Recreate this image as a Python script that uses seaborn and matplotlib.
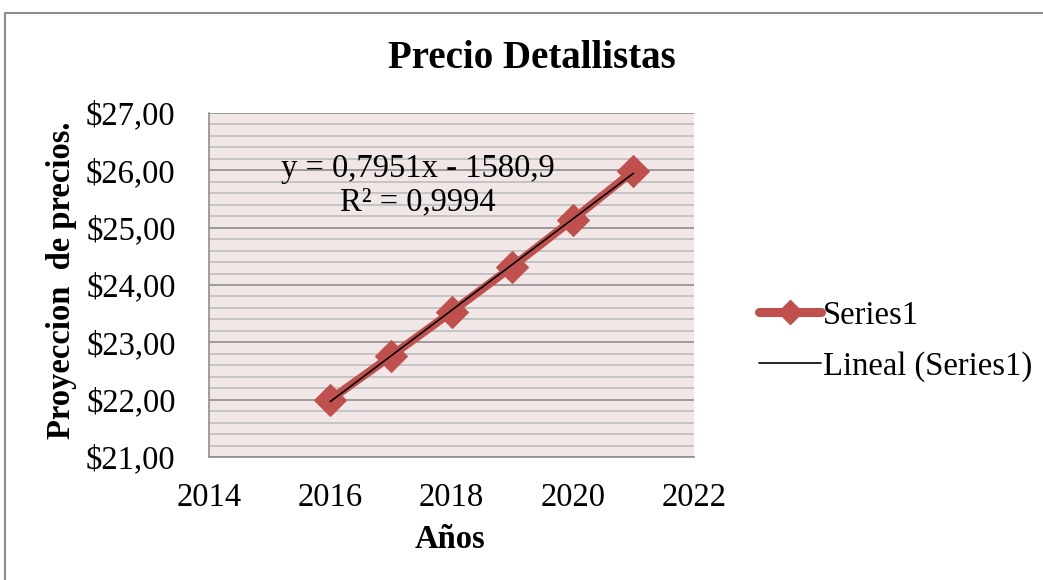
import numpy as np
import pandas as pd
import matplotlib
matplotlib.use("Agg")
import matplotlib.pyplot as plt
from matplotlib.lines import Line2D
from matplotlib.ticker import MultipleLocator, FuncFormatter
import seaborn as sns

# Data
years = [2016, 2017, 2018, 2019, 2020, 2021]
prices = [22.00, 22.76, 23.53, 24.32, 25.14, 25.99]
series_name = "Series1"
trend_name = "Lineal (Series1)"
title = "Precio Detallistas"
x_label = "Años"
y_label = "Proyeccion  de precios."
equation = "y = 0,7951x - 1580,9"
r2_text = "R² = 0,9994"

df = pd.DataFrame({"year": years, "price": prices})

sns.set_theme(style="white")
plt.rcParams["font.family"] = ["Liberation Serif", "DejaVu Serif"]
plt.rcParams["text.color"] = "black"
plt.rcParams["axes.labelcolor"] = "black"

red = "#C0504D"
major_grid = "#8E8E8E"
minor_grid = "#BDBDBD"
bg = "#F2E7E7"
fs = 23.5

fig = plt.figure(figsize=(10.43, 5.80), dpi=100)
ax = fig.add_axes([209 / 1043, 1 - 457 / 580, (694 - 209) / 1043, (457 - 113) / 580])
ax.set_facecolor(bg)

# Series line with diamond markers
sns.lineplot(data=df, x="year", y="price", ax=ax, color=red, lw=6,
             marker="D", markersize=16, markeredgecolor=red, zorder=3,
             legend=False)
# Linear trendline
sns.regplot(data=df, x="year", y="price", ax=ax, scatter=False, ci=None,
            color="black", line_kws={"lw": 1.2, "zorder": 4})

ax.set_xlim(2014, 2022)
ax.set_ylim(21, 27)
ax.xaxis.set_major_locator(MultipleLocator(2))
ax.yaxis.set_major_locator(MultipleLocator(1))
ax.yaxis.set_minor_locator(MultipleLocator(0.2))
ax.yaxis.set_major_formatter(FuncFormatter(lambda v, p: f"${v:.2f}".replace(".", ",")))

ax.grid(False)
ax.yaxis.grid(True, which="minor", color=minor_grid, lw=1.2, zorder=0)
ax.yaxis.grid(True, which="major", color=major_grid, lw=1.2, zorder=0)
ax.set_axisbelow(True)

for s in ["top", "right"]:
    ax.spines[s].set_visible(False)
for s in ["left", "bottom"]:
    ax.spines[s].set_color(major_grid)
    ax.spines[s].set_linewidth(1.2)

ax.tick_params(axis="both", which="major", direction="out", length=8,
               width=1.2, color=major_grid, labelsize=fs, labelcolor="black")
ax.tick_params(axis="x", which="major", pad=10)
ax.tick_params(axis="y", which="major", pad=16)
ax.tick_params(axis="y", which="minor", length=0)

ax.set_xlabel(x_label, fontsize=fs, fontweight="bold")
ax.set_ylabel(y_label, fontsize=fs, fontweight="bold")
ax.xaxis.set_label_coords((450 - 209) / 485, (457 - 540) / 344)
ax.yaxis.set_label_coords((62 - 209) / 485, (457 - 280) / 344)
ax.xaxis.label.set_va("center")
ax.yaxis.label.set_va("center")

fig.text(532 / 1043, 1 - 58 / 580, title, fontsize=28, fontweight="bold",
         ha="center", va="center")

ax.text(2017.45, 26.03, equation, fontsize=fs, ha="center", va="center", zorder=5)
ax.text(2017.45, 25.45, r2_text, fontsize=fs, ha="center", va="center", zorder=5)

handles = [
    Line2D([], [], color=red, lw=6.5, marker="D", markersize=12,
           solid_capstyle="round"),
    Line2D([], [], color="black", lw=1.2),
]
fig.legend(handles, [series_name, trend_name], loc="center left",
           bbox_to_anchor=(759 / 1043, 1 - 341 / 580), frameon=False,
           fontsize=fs, handlelength=1.9, handletextpad=0.05, labelspacing=0.62,
           borderaxespad=0, borderpad=0)

# Outer chart frame
fig.add_artist(Line2D([5 / 1043, 5 / 1043], [0, 1 - 13 / 580],
                      transform=fig.transFigure, color="#8C8C8C", lw=1.5))
fig.add_artist(Line2D([5 / 1043, 1], [1 - 13 / 580, 1 - 13 / 580],
                      transform=fig.transFigure, color="#8C8C8C", lw=1.5))

fig.savefig("out.png", dpi=100, facecolor="white")
